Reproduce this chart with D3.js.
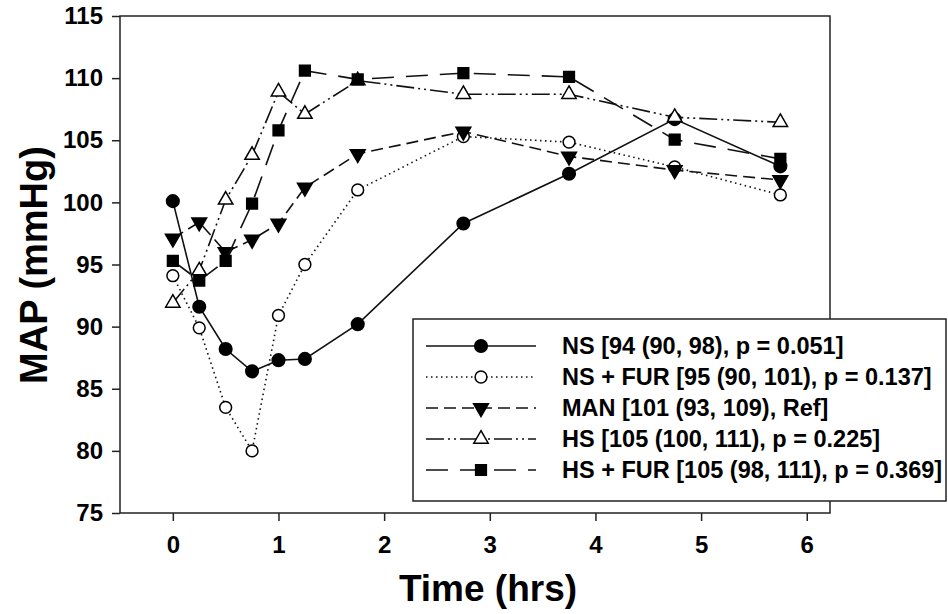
<!DOCTYPE html>
<html>
<head>
<meta charset="utf-8">
<script src="https://cdnjs.cloudflare.com/ajax/libs/d3/7.8.5/d3.min.js"></script>
<style>
  body { margin: 0; background: #fff; }
  text { font-family: "Liberation Sans", Arial, sans-serif; font-weight: bold; fill: #000; }
</style>
</head>
<body>
<div id="chart"></div>
<script>
// data
var times = [0, 0.25, 0.5, 0.75, 1, 1.25, 1.75, 2.75, 3.75, 4.75, 5.75];
var ns     = [100.1, 91.6, 88.2, 86.4, 87.3, 87.4, 90.2, 98.3, 102.3, 106.7, 102.9];
var nsFur  = [94.1, 89.9, 83.5, 80.0, 90.9, 95.0, 101.0, 105.3, 104.85, 102.85, 100.6];
var man    = [97.1, 98.4, 96.0, 97.0, 98.3, 101.2, 103.9, 105.7, 103.7, 102.6, 101.8];
var hs     = [91.9, 94.5, 100.2, 103.8, 108.9, 107.1, 109.8, 108.7, 108.7, 106.85, 106.45];
var hsFur  = [95.3, 93.7, 95.3, 99.9, 105.8, 110.6, 109.9, 110.4, 110.1, 105.05, 103.5];
var legendLabels = [
    "NS [94 (90, 98), p = 0.051]",
    "NS + FUR [95 (90, 101), p = 0.137]",
    "MAN [101 (93, 109), Ref]",
    "HS [105 (100, 111), p = 0.225]",
    "HS + FUR [105 (98, 111), p = 0.369]"
];
var xTicks = [0, 1, 2, 3, 4, 5, 6];
var yTicks = [75, 80, 85, 90, 95, 100, 105, 110, 115];

var width = 948, height = 614;
var plot = { left: 120, right: 830, top: 16, bottom: 513 };

var x = d3.scaleLinear().domain([-0.5, 6.22]).range([plot.left, plot.right]);
var y = d3.scaleLinear().domain([75, 115]).range([plot.bottom, plot.top]);

var series = [
    { values: ns,    dash: null,                 symbol: d3.symbolCircle,   size: 125, fill: "#000", rot: 0 },
    { values: nsFur, dash: "1.5,3.5",            symbol: d3.symbolCircle,   size: 110, fill: "#fff", rot: 0 },
    { values: man,   dash: "12,6",               symbol: d3.symbolTriangle, size: 95,  fill: "#000", rot: 180 },
    { values: hs,    dash: "18,4,2,4,2,4",       symbol: d3.symbolTriangle, size: 90,  fill: "#fff", rot: 0 },
    { values: hsFur, dash: "22,12",              symbol: d3.symbolSquare,   size: 115, fill: "#000", rot: 0 }
];

var svg = d3.select("#chart").append("svg")
    .attr("width", width)
    .attr("height", height);

// frame
svg.append("rect")
    .attr("x", plot.left)
    .attr("y", plot.top)
    .attr("width", plot.right - plot.left)
    .attr("height", plot.bottom - plot.top)
    .attr("fill", "none")
    .attr("stroke", "#222")
    .attr("stroke-width", 1.5);

// axes
var xAxis = svg.append("g")
    .attr("transform", "translate(0," + plot.bottom + ")")
    .call(d3.axisBottom(x).tickValues(xTicks).tickFormat(d3.format("d"))
        .tickSize(8).tickSizeOuter(0).tickPadding(15));
var yAxis = svg.append("g")
    .attr("transform", "translate(" + plot.left + ",0)")
    .call(d3.axisLeft(y).tickValues(yTicks).tickSize(8).tickSizeOuter(0).tickPadding(9));

[xAxis, yAxis].forEach(function(a) {
    a.select(".domain").remove();
    a.selectAll("line").attr("stroke", "#222").attr("stroke-width", 1.5);
    a.selectAll("text")
        .style("font-family", "'Liberation Sans', Arial, sans-serif")
        .style("font-weight", "bold")
        .style("font-size", "24px")
        .attr("fill", "#000");
});

// axis titles
svg.append("text")
    .attr("x", 488)
    .attr("y", 601)
    .attr("text-anchor", "middle")
    .style("font-size", "37px")
    .text("Time (hrs)");

svg.append("text")
    .attr("transform", "translate(47,265) rotate(-90)")
    .attr("text-anchor", "middle")
    .style("font-size", "38px")
    .text("MAP (mmHg)");

// lines and markers
var line = d3.line()
    .x(function(d) { return x(d.t) })
    .y(function(d) { return y(d.v) });

series.forEach(function(s) {
    var pts = times.map(function(t, i) { return { t: t, v: s.values[i] } });
    svg.append("path")
        .datum(pts)
        .attr("d", line)
        .attr("fill", "none")
        .attr("stroke", "#111")
        .attr("stroke-width", 1.6)
        .attr("stroke-dasharray", s.dash);
    svg.selectAll(null)
        .data(pts)
        .enter()
        .append("path")
        .attr("d", d3.symbol().type(s.symbol).size(s.size))
        .attr("transform", function(d) {
            return "translate(" + x(d.t) + "," + y(d.v) + ") rotate(" + s.rot + ")";
        })
        .attr("fill", s.fill)
        .attr("stroke", "#000")
        .attr("stroke-width", 1.5);
});

// legend
var legend = svg.append("g");
legend.append("rect")
    .attr("x", 413)
    .attr("y", 319)
    .attr("width", 533)
    .attr("height", 182)
    .attr("fill", "#fff")
    .attr("stroke", "#222")
    .attr("stroke-width", 1.5);

var row = legend.selectAll(".row")
    .data(series)
    .enter()
    .append("g")
    .attr("class", "row")
    .attr("transform", function(d, i) { return "translate(0," + (346 + i * 31) + ")" });

row.append("line")
    .attr("x1", 426)
    .attr("x2", 536)
    .attr("stroke", "#111")
    .attr("stroke-width", 1.6)
    .attr("stroke-dasharray", function(d) { return d.dash });

row.append("path")
    .attr("d", function(d) { return d3.symbol().type(d.symbol).size(d.size)() })
    .attr("transform", function(d) { return "translate(481,0) rotate(" + d.rot + ")" })
    .attr("fill", function(d) { return d.fill })
    .attr("stroke", "#000")
    .attr("stroke-width", 1.5);

row.append("text")
    .attr("x", 562)
    .attr("dy", "0.36em")
    .style("font-size", "23.5px")
    .text(function(d, i) { return legendLabels[i] });
</script>
</body>
</html>
